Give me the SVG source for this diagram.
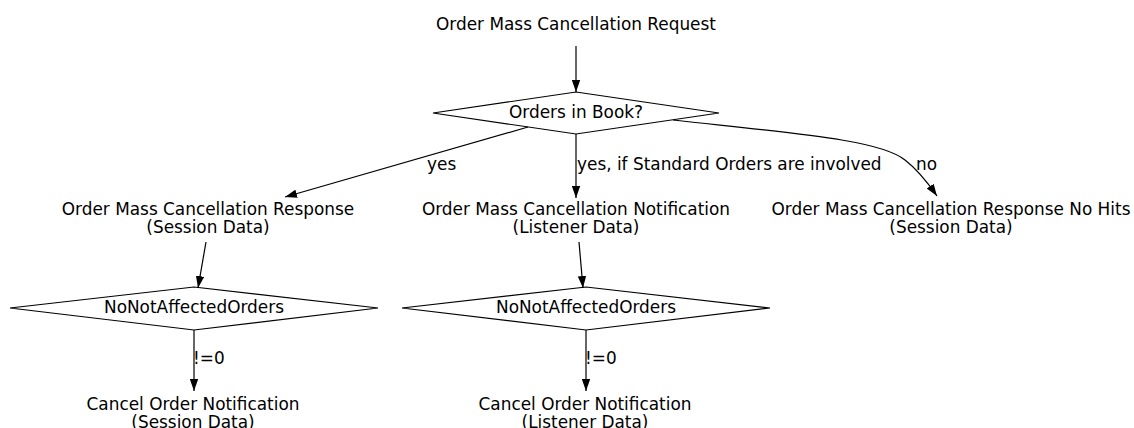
<svg xmlns="http://www.w3.org/2000/svg" width="1134" height="428" viewBox="0 0 1134 428">
<style>
text{font-family:"DejaVu Sans",sans-serif;font-size:16.9px;fill:#000}
.c{text-anchor:middle}
.shape{fill:none;stroke:#000;stroke-width:1.2}
.edge{fill:none;stroke:#000;stroke-width:1.2;marker-end:url(#ah)}
</style>
<defs>
<marker id="ah" markerWidth="12" markerHeight="9" refX="12" refY="4.2" orient="auto" markerUnits="userSpaceOnUse" viewBox="0 0 12 8.4">
<path d="M0,0 L12,4.2 L0,8.4 Z" fill="#000"/>
</marker>
</defs>
<rect width="1134" height="428" fill="#fff"/>
<g id="n-request"><text class="c" x="576" y="30">Order Mass Cancellation Request</text></g>
<g id="n-book"><polygon class="shape" points="576,92 719,113 576,134 433,113"/><text class="c" x="576" y="118">Orders in Book?</text></g>
<g id="n-response"><text class="c" x="208" y="214.5">Order Mass Cancellation Response</text><text class="c" x="208" y="232.5">(Session Data)</text></g>
<g id="n-notification"><text class="c" x="576" y="214.5">Order Mass Cancellation Notification</text><text class="c" x="576" y="232.5">(Listener Data)</text></g>
<g id="n-nohits"><text class="c" x="951" y="214.5">Order Mass Cancellation Response No Hits</text><text class="c" x="951" y="232.5">(Session Data)</text></g>
<g id="n-nnao1"><polygon class="shape" points="194,287 378,308 194,330 10,308"/><text class="c" x="194" y="313">NoNotAffectedOrders</text></g>
<g id="n-nnao2"><polygon class="shape" points="586,287 770,308 586,330 402,308"/><text class="c" x="586" y="313">NoNotAffectedOrders</text></g>
<g id="n-cancel1"><text class="c" x="193" y="409.5">Cancel Order Notification</text><text class="c" x="193" y="427.5">(Session Data)</text></g>
<g id="n-cancel2"><text class="c" x="585" y="409.5">Cancel Order Notification</text><text class="c" x="585" y="427.5">(Listener Data)</text></g>
<g id="connectors">
<path class="edge" d="M576,46 L576,92"/>
<path class="edge" d="M528,127 L285,197"/>
<text x="427" y="170">yes</text>
<path class="edge" d="M576,134 L576,198"/>
<text x="577" y="170">yes, if Standard Orders are involved</text>
<path class="edge" d="M673,120 C800,134 880,140 905,160 C918,170 928,183 937,196"/>
<text x="916" y="170">no</text>
<path class="edge" d="M206,242 L198,288"/>
<path class="edge" d="M579,242 L583,288"/>
<path class="edge" d="M194,330 L194,391"/>
<text x="193" y="364">!=0</text>
<path class="edge" d="M586,330 L586,391"/>
<text x="585" y="364">!=0</text>
</g>
</svg>
